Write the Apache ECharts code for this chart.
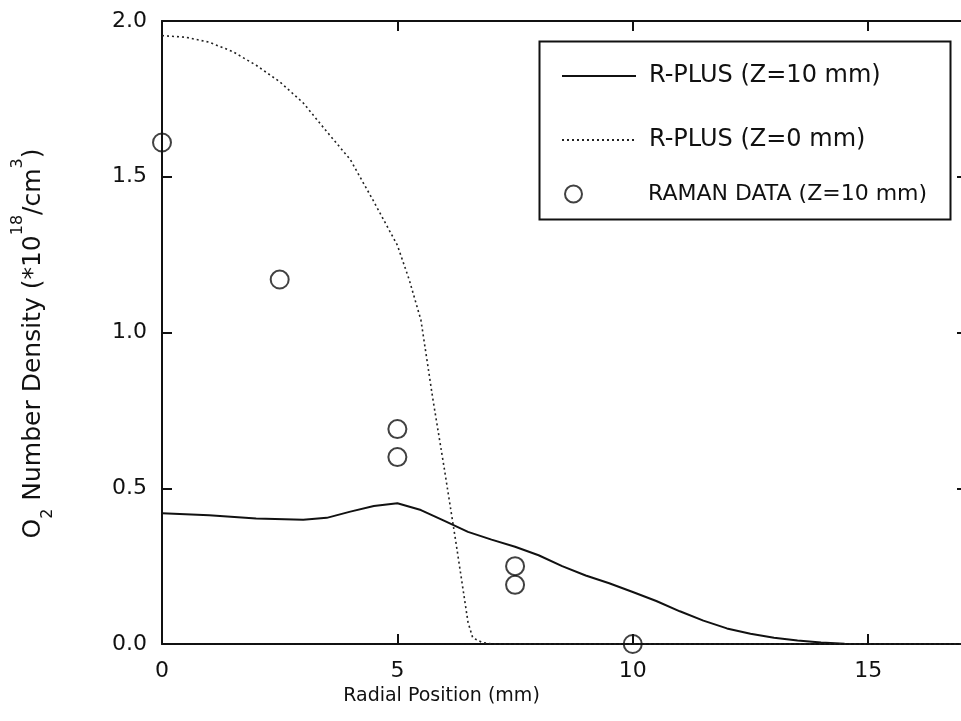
<!DOCTYPE html>
<html>
<head>
<meta charset="utf-8">
<script src="https://cdn.jsdelivr.net/npm/echarts@6/dist/echarts.min.js"></script>
<style>
  html, body { margin: 0; padding: 0; background: #fff; }
</style>
</head>
<body>
<div id="chart" style="width:961px;height:721px;"></div>
<script>
  // R-PLUS (Z=10 mm)
  var z10X = [0, 1, 2, 3, 3.5, 4, 4.5, 5, 5.5, 6, 6.5, 7, 7.5, 8, 8.5, 9, 9.5, 10, 10.5, 11, 11.5, 12, 12.5, 13, 13.5, 14, 14.5, 15, 17]
  var z10Y = [0.42, 0.413, 0.403, 0.399, 0.405, 0.425, 0.443, 0.452, 0.43, 0.395, 0.36, 0.335, 0.312, 0.285, 0.25, 0.22, 0.195, 0.167, 0.138, 0.105, 0.075, 0.05, 0.033, 0.02, 0.011, 0.005, 0.001, 0, 0]

  // R-PLUS (Z=0 mm)
  var z0X = [0, 0.5, 1, 1.5, 2, 2.5, 3, 3.5, 4, 4.5, 5, 5.25, 5.5, 5.75, 6, 6.25, 6.5, 6.6, 6.8, 7, 17]
  var z0Y = [1.953, 1.948, 1.932, 1.902, 1.858, 1.805, 1.737, 1.645, 1.555, 1.42, 1.28, 1.17, 1.04, 0.79, 0.56, 0.32, 0.07, 0.02, 0.005, 0, 0]

  // RAMAN DATA (Z=10 mm)
  var ramanX = [0, 2.5, 5, 5, 7.5, 7.5, 10]
  var ramanY = [1.61, 1.17, 0.69, 0.60, 0.25, 0.19, 0.0]

  var xTicks = [0, 5, 10, 15]
  var yTicks = [0.0, 0.5, 1.0, 1.5, 2.0]

  function pairs(xs, ys) {
    var out = []
    for (var i = 0; i < xs.length; i++) out.push([xs[i], ys[i]])
    return out
  }

  var chart = echarts.init(document.getElementById('chart'))
  var font = 'DejaVu Sans'
  var ink = '#111'

  var tick = { inside: true, length: 10, lineStyle: { color: ink, width: 2 } }

  var option = {
    backgroundColor: '#fff',
    animation: false,
    textStyle: { fontFamily: font, color: ink },
    // right frame sits just past the picture edge, as in the original
    grid: { left: 162, width: 805, top: 21, bottom: 77, outerBoundsMode: 'none', containLabel: false },
    xAxis: [{
      type: 'value', min: 0, max: 17.1, interval: 5,
      name: 'Radial Position (mm)', nameLocation: 'middle', nameGap: 33,
      nameTextStyle: { fontSize: 19, fontFamily: font, color: ink, padding: [0, 246, 0, 0] },
      axisLine: { onZero: false, lineStyle: { color: ink, width: 2 } },
      axisTick: tick,
      axisLabel: { fontSize: 22, margin: 16, color: ink, fontFamily: font, showMaxLabel: false,
        formatter: function (v) { return xTicks.indexOf(v) >= 0 ? String(v) : '' } },
      splitLine: { show: false }
    }, {
      type: 'value', position: 'top', min: 0, max: 17.1, interval: 5,
      axisLine: { show: true, onZero: false, lineStyle: { color: ink, width: 2 } },
      axisTick: tick,
      axisLabel: { show: false }, splitLine: { show: false }
    }],
    yAxis: [{
      type: 'value', min: 0, max: 2, interval: 0.5,
      name: 'O{sub|2} Number Density (*10{sup|18}/cm{sup|3})',
      nameLocation: 'middle', nameGap: 106, nameRotate: 90,
      nameTextStyle: {
        fontSize: 25, fontFamily: font, color: ink, lineHeight: 46, padding: [0, 22, 0, 0],
        rich: {
          sub: { fontSize: 16, fontFamily: font, color: ink, verticalAlign: 'bottom', lineHeight: 46 },
          sup: { fontSize: 16, fontFamily: font, color: ink, verticalAlign: 'top', lineHeight: 46 }
        }
      },
      axisLine: { onZero: false, lineStyle: { color: ink, width: 2 } },
      axisTick: tick,
      axisLabel: { fontSize: 22, margin: 15, color: ink, fontFamily: font,
        formatter: function (v) { return yTicks.indexOf(v) >= 0 ? v.toFixed(1) : '' } },
      splitLine: { show: false }
    }, {
      type: 'value', position: 'right', min: 0, max: 2, interval: 0.5,
      axisLine: { show: true, onZero: false, lineStyle: { color: ink, width: 2 } },
      axisTick: tick,
      axisLabel: { show: false }, splitLine: { show: false }
    }],
    legend: [{
      orient: 'vertical', left: 556, top: 59, itemWidth: 74, itemHeight: 14, itemGap: 40,
      itemStyle: { opacity: 0 },
      textStyle: { fontSize: 24, fontFamily: font, color: ink, padding: [0, 0, 0, 8] },
      data: ['R-PLUS (Z=10 mm)', 'R-PLUS (Z=0 mm)']
    }, {
      orient: 'vertical', left: 559, top: 178, itemWidth: 17, itemHeight: 17,
      textStyle: { fontSize: 22, fontFamily: font, color: ink, padding: [0, 0, 0, 61] },
      data: [{ name: 'RAMAN DATA (Z=10 mm)', icon: 'circle' }]
    }],
    graphic: [{
      type: 'rect', left: 537, top: 39, z: 5,
      shape: { width: 411, height: 178 },
      style: { fill: 'none', stroke: ink, lineWidth: 2 }
    }],
    series: [{
      name: 'R-PLUS (Z=10 mm)', type: 'line', showSymbol: false, symbol: 'none',
      lineStyle: { color: ink, width: 2 },
      itemStyle: { color: ink },
      data: pairs(z10X, z10Y)
    }, {
      name: 'R-PLUS (Z=0 mm)', type: 'line', showSymbol: false, symbol: 'none',
      lineStyle: { color: '#222', width: 1.6, type: [2, 3] },
      itemStyle: { color: '#222' },
      data: pairs(z0X, z0Y)
    }, {
      name: 'RAMAN DATA (Z=10 mm)', type: 'scatter', symbol: 'circle', symbolSize: 18,
      itemStyle: { color: 'rgba(255,255,255,0)', borderColor: ink, borderWidth: 2 },
      data: pairs(ramanX, ramanY),
      z: 4
    }]
  }

  chart.setOption(option)
</script>
</body>
</html>
